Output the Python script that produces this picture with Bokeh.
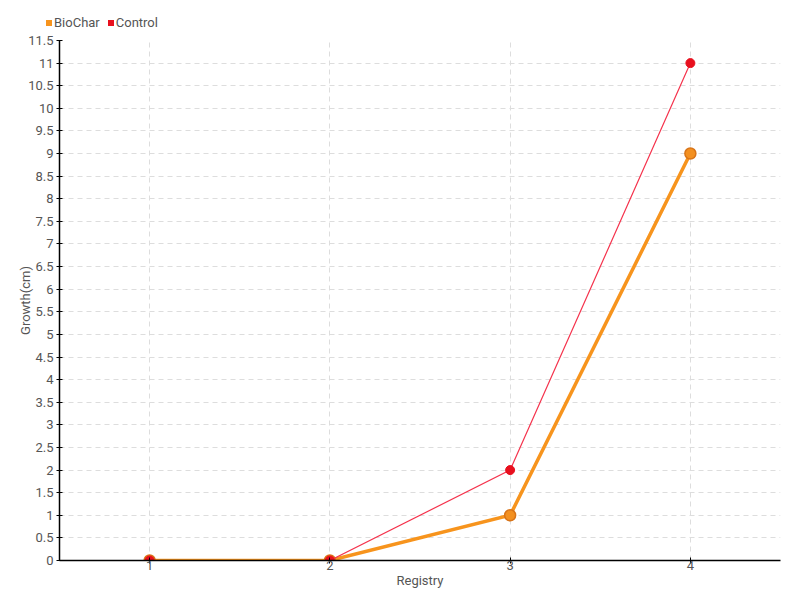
from bokeh.plotting import figure
from bokeh.models import FixedTicker, Range1d, Div
from bokeh.layouts import column
from bokeh.embed import file_html
from bokeh.resources import INLINE

registry = [1, 2, 3, 4]
biochar = [0, 0, 1, 9]
control = [0, 0, 2, 11]
y_ticks = [i * 0.5 for i in range(24)]
series_names = ["BioChar", "Control"]

FONT = "Roboto"
TXT = "#555555"
ORANGE = "#f7941d"
RED = "#e8101e"

p = figure(frame_width=721, frame_height=520, output_backend="svg", toolbar_location=None,
           x_range=Range1d(0.5, 4.5), y_range=Range1d(0, 11.5))
p.min_border_left = 59
p.min_border_right = 10
p.min_border_top = 10
p.min_border_bottom = 36
p.outline_line_color = None

p.line(registry, biochar, line_color=ORANGE, line_width=3.5)
p.scatter(registry, biochar, size=11, fill_color="#f39020", line_color="#d87418", line_width=1.5)
p.line(registry, control, line_color="#f5334d", line_width=1.2)
p.scatter(registry, control, size=9, fill_color=RED, line_color=RED)

p.xaxis.ticker = FixedTicker(ticks=registry)
p.yaxis.ticker = FixedTicker(ticks=y_ticks)
p.yaxis.formatter.use_scientific = False
for ax in (p.xaxis, p.yaxis):
    ax.axis_line_color = "black"
    ax.axis_line_width = 1.5
    ax.major_tick_line_color = "black"
    ax.major_tick_in = 3
    ax.major_tick_out = 3
    ax.minor_tick_line_color = None
    ax.major_label_text_font = FONT
    ax.major_label_text_font_size = "13px"
    ax.major_label_text_color = TXT
    ax.axis_label_text_font = FONT
    ax.axis_label_text_font_size = "13px"
    ax.axis_label_text_color = TXT
    ax.axis_label_text_font_style = "normal"
p.xaxis.axis_label = "Registry"
p.yaxis.axis_label = "Growth(cm)"
p.xaxis.major_label_standoff = -3
p.xaxis.axis_label_standoff = 0
p.yaxis.major_label_standoff = 3
p.yaxis.axis_label_standoff = -8

for g in (p.xgrid, p.ygrid):
    g.grid_line_color = "#dddddd"
    g.grid_line_dash = "5 4"
    g.grid_line_width = 1

# legend strip above the chart
items = ""
for name, col in zip(series_names, [ORANGE, RED]):
    items += (f'<span style="display:inline-block;width:6px;height:6px;background:{col};'
              f'margin-right:2px;vertical-align:middle"></span>'
              f'<span style="margin-right:8px;vertical-align:middle">{name}</span>')
html = (f'<div style="position:absolute;left:46px;top:14px;white-space:nowrap;'
        f'font-family:Roboto;font-size:13px;line-height:16px;color:{TXT}">{items}</div>')
leg = Div(text=html, width=790, height=30, margin=0, styles={"position": "relative"})

open("out.html", "w").write(file_html(column(leg, p, spacing=0), INLINE))
